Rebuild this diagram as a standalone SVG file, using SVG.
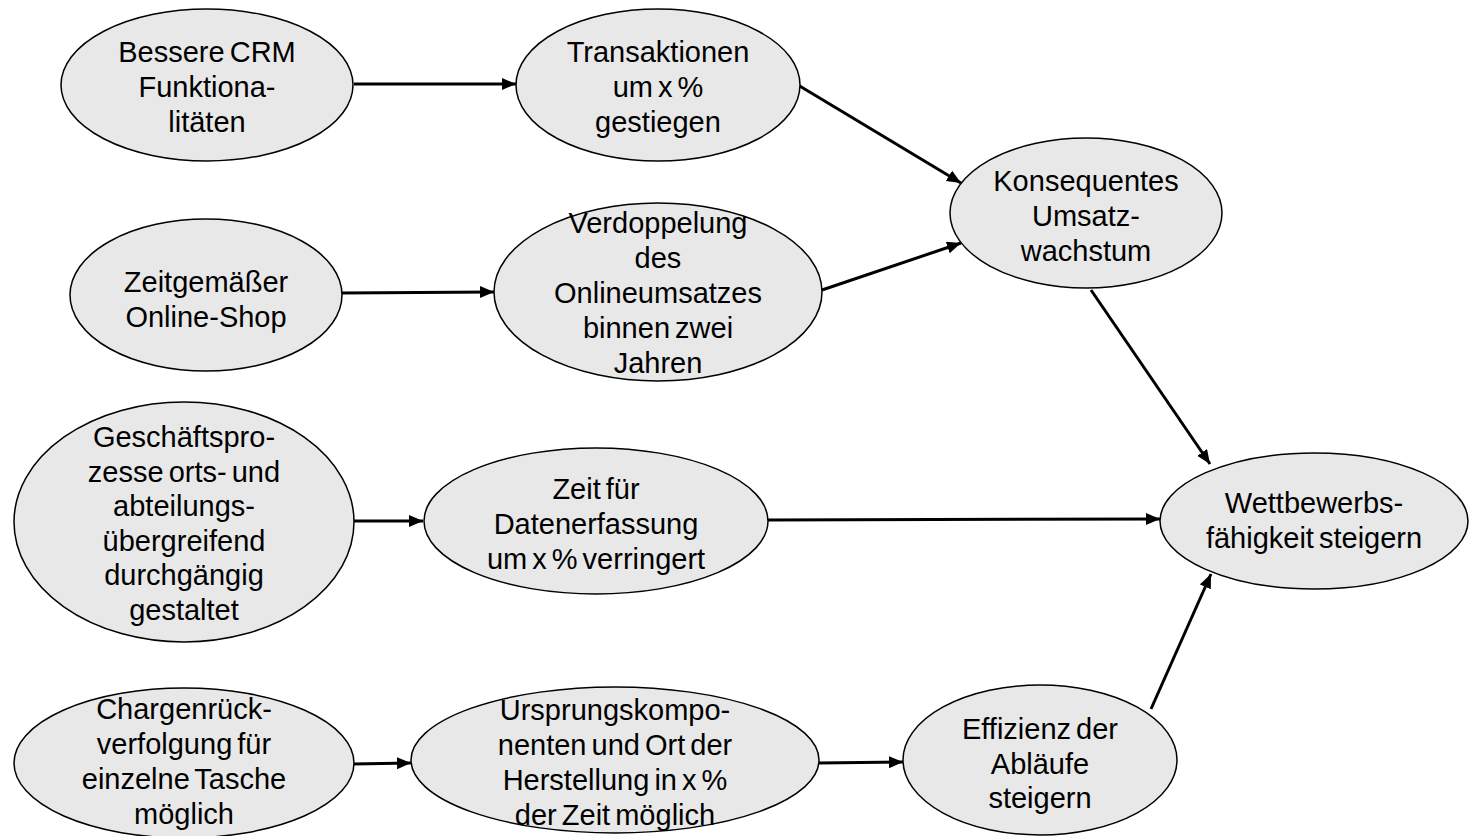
<svg xmlns="http://www.w3.org/2000/svg" width="1484" height="836" viewBox="0 0 1484 836">
  <style>
    .node ellipse { fill: #e8e8e8; stroke: #000; stroke-width: 1.5; }
    .node text { font-family: "Liberation Sans", Arial, sans-serif; font-size: 29px; fill: #000; text-anchor: middle; word-spacing: -3px; }
    .edge { stroke: #000; stroke-width: 3; fill: none; marker-end: url(#arrow); }
  </style>
  <defs>
    <marker id="arrow" markerUnits="userSpaceOnUse" markerWidth="15" markerHeight="13" refX="14" refY="6" orient="auto">
      <path d="M0,0 L14,6 L0,12 z" fill="#000"/>
    </marker>
  </defs>
  <rect width="1484" height="836" fill="#fff"/>

  <!-- connectors -->
  <g id="connectors">
    <line class="edge" x1="354" y1="84" x2="516" y2="84"/>
    <line class="edge" x1="798" y1="85" x2="961" y2="183"/>
    <line class="edge" x1="822" y1="290" x2="961" y2="243"/>
    <line class="edge" x1="342" y1="293" x2="494" y2="292"/>
    <line class="edge" x1="1091" y1="290" x2="1210" y2="464"/>
    <line class="edge" x1="353" y1="521" x2="423" y2="521"/>
    <line class="edge" x1="768" y1="520" x2="1160" y2="519"/>
    <line class="edge" x1="353" y1="764" x2="411" y2="763"/>
    <line class="edge" x1="819" y1="763" x2="903" y2="762"/>
    <line class="edge" x1="1151" y1="709" x2="1211" y2="574"/>
  </g>

  <g id="crm" class="node">
    <ellipse cx="207" cy="85" rx="146" ry="76"/>
    <text x="207" y="62">Bessere CRM</text>
    <text x="207" y="97">Funktiona-</text>
    <text x="207" y="132">litäten</text>
  </g>

  <g id="transaktionen" class="node">
    <ellipse cx="658" cy="85" rx="142" ry="76"/>
    <text x="658" y="62">Transaktionen</text>
    <text x="658" y="97">um x %</text>
    <text x="658" y="132">gestiegen</text>
  </g>

  <g id="umsatz" class="node">
    <ellipse cx="1086" cy="213" rx="136" ry="75"/>
    <text x="1086" y="191">Konsequentes</text>
    <text x="1086" y="226">Umsatz-</text>
    <text x="1086" y="261">wachstum</text>
  </g>

  <g id="shop" class="node">
    <ellipse cx="206" cy="295" rx="136" ry="76"/>
    <text x="206" y="292">Zeitgemäßer</text>
    <text x="206" y="327">Online-Shop</text>
  </g>

  <g id="onlineumsatz" class="node">
    <ellipse cx="658" cy="292" rx="164" ry="89"/>
    <text x="658" y="233">Verdoppelung</text>
    <text x="658" y="268">des</text>
    <text x="658" y="303">Onlineumsatzes</text>
    <text x="658" y="338">binnen zwei</text>
    <text x="658" y="373">Jahren</text>
  </g>

  <g id="prozesse" class="node">
    <ellipse cx="184" cy="522" rx="170" ry="120"/>
    <text x="184" y="447">Geschäftspro-</text>
    <text x="184" y="481.5">zesse orts- und</text>
    <text x="184" y="516">abteilungs-</text>
    <text x="184" y="550.5">übergreifend</text>
    <text x="184" y="585">durchgängig</text>
    <text x="184" y="619.5">gestaltet</text>
  </g>

  <g id="datenerfassung" class="node">
    <ellipse cx="596" cy="521" rx="172" ry="73"/>
    <text x="596" y="499">Zeit für</text>
    <text x="596" y="534">Datenerfassung</text>
    <text x="596" y="569">um x % verringert</text>
  </g>

  <g id="wettbewerb" class="node">
    <ellipse cx="1314" cy="521" rx="154" ry="68"/>
    <text x="1314" y="513">Wettbewerbs-</text>
    <text x="1314" y="548">fähigkeit steigern</text>
  </g>

  <g id="charge" class="node">
    <ellipse cx="184" cy="763" rx="170" ry="75"/>
    <text x="184" y="719">Chargenrück-</text>
    <text x="184" y="754">verfolgung für</text>
    <text x="184" y="789">einzelne Tasche</text>
    <text x="184" y="824">möglich</text>
  </g>

  <g id="ursprung" class="node">
    <ellipse cx="615" cy="760" rx="204" ry="73"/>
    <text x="615" y="720">Ursprungskompo-</text>
    <text x="615" y="755">nenten und Ort der</text>
    <text x="615" y="790">Herstellung in x %</text>
    <text x="615" y="825">der Zeit möglich</text>
  </g>

  <g id="effizienz" class="node">
    <ellipse cx="1040" cy="760" rx="137" ry="75"/>
    <text x="1040" y="739">Effizienz der</text>
    <text x="1040" y="774">Abläufe</text>
    <text x="1040" y="808">steigern</text>
  </g>
</svg>
